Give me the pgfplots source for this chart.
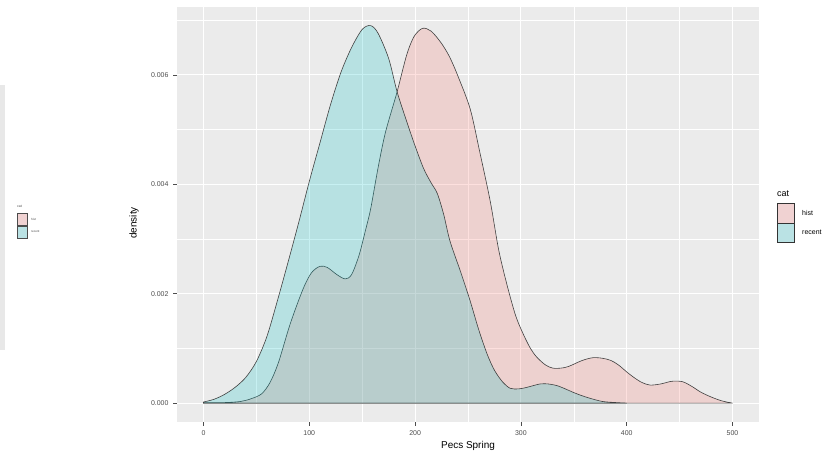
\documentclass[border=0pt]{standalone}
\usepackage{fontspec}
\setmainfont{Liberation Sans}
\usepackage{pgfplots}
\pgfplotsset{compat=1.18}
\usepackage{xcolor}
\definecolor{panelgrey}{RGB}{235,235,235}
\definecolor{ggpink}{RGB}{248,118,109}
\definecolor{ggblue}{RGB}{0,191,196}
\definecolor{grey30}{RGB}{77,77,77}
\definecolor{keypink}{RGB}{240,210,210}
\definecolor{keyblue}{RGB}{186,226,228}

\begin{document}
\begin{tikzpicture}[x=1bp,y=1bp]
\path[use as bounding box,fill=white] (0,0) rectangle (833,455);

% faint ghost panel at the left edge
\fill[black!9] (0,105) rectangle (5,370);
\node[font=\fontsize{3.5}{4}\selectfont,text=grey30,anchor=west,inner sep=0] at (17,249) {cat};
\draw[black!70,line width=0.3bp,fill=keypink] (17,230) rectangle (27,242);
\draw[black!70,line width=0.3bp,fill=keyblue] (17,217) rectangle (27,229);
\node[font=\fontsize{3}{3.5}\selectfont,text=grey30,anchor=west,inner sep=0] at (31,236) {hist};
\node[font=\fontsize{3}{3.5}\selectfont,text=grey30,anchor=west,inner sep=0] at (31,223) {recent};

\begin{axis}[
  at={(177bp,33bp)}, anchor=south west,
  scale only axis, width=582bp, height=415bp,
  xmin=-25, xmax=525, ymin=-0.000345, ymax=0.00724,
  axis background/.style={fill=panelgrey},
  axis line style={draw=none},
  xtick={0,100,200,300,400,500},
  ytick={0,0.002,0.004,0.006},
  minor xtick={-50,50,150,250,350,450},
  minor ytick={0.001,0.003,0.005,0.007},
  grid=both,
  major grid style={white,line width=1.1bp},
  minor grid style={white,line width=0.5bp},
  xtick pos=lower, ytick pos=left,
  tick align=outside,
  major tick length=4bp, minor tick length=0pt,
  tick style={grey30,line width=0.5bp},
  scaled y ticks=false,
  yticklabel style={/pgf/number format/fixed,/pgf/number format/precision=3,
    /pgf/number format/fixed zerofill},
  /pgf/number format/assume math mode=true,
  ticklabel style={font=\fontsize{7}{8}\selectfont,text=grey30},
  xticklabel style={yshift=-1bp},
  yticklabel style={xshift=-1bp},
  clip=false,
]
\addplot[smooth,tension=0.5,draw=black!75,line width=0.6bp,fill=ggpink,fill opacity=0.22]
coordinates {
(0,0.00001) (20,0.00001) (35,0.00003) (45,0.00008) (55,0.00017) (63,0.00038)
(71,0.00075) (82,0.00145) (94,0.00208) (102,0.00238) (110,0.00250) (117,0.00248)
(126,0.00235) (134,0.00227) (140,0.00235) (147,0.00270) (153,0.00315) (158,0.00355)
(165,0.00430) (172,0.00495) (183,0.00569) (192,0.00636) (199,0.00670) (207,0.00685)
(215,0.00680) (224,0.00660) (232,0.00635) (240,0.00600) (252,0.00538) (261,0.00460)
(271,0.00369) (279,0.00280) (287,0.00215) (295,0.00160) (302,0.00127) (309,0.00100)
(315,0.00084) (323,0.00070) (330,0.00064) (338,0.00064) (345,0.00067) (358,0.00078)
(368,0.00083) (377,0.00082) (385,0.00078) (392,0.00070) (400,0.00057) (406,0.00048)
(414,0.00038) (422,0.00033) (432,0.00035) (443,0.00040) (453,0.00039) (462,0.00030)
(470,0.00020) (480,0.00011) (490,0.00004) (500,0.00000)
} \closedcycle;
\addplot[smooth,tension=0.5,draw=black!75,line width=0.6bp,fill=ggblue,fill opacity=0.22]
coordinates {
(0,0.00002) (10,0.00007) (20,0.00016) (30,0.00029) (40,0.00047) (50,0.00076)
(60,0.00122) (70,0.00188) (80,0.00258) (90,0.00330) (100,0.00405) (110,0.00475)
(120,0.00545) (130,0.00605) (140,0.00650) (150,0.00683) (158,0.00690) (165,0.00676)
(175,0.00630) (183,0.00569) (192,0.00515) (200,0.00470) (208,0.00429) (215,0.00403)
(221,0.00383) (227,0.00345) (233,0.00296) (243,0.00240) (252,0.00187) (260,0.00135)
(268,0.00090) (275,0.00060) (283,0.00038) (290,0.00027) (298,0.00026) (306,0.00029)
(318,0.00035) (326,0.00035) (334,0.00032) (342,0.00026) (349,0.00020) (357,0.00014)
(365,0.00009) (377,0.00003) (390,0.00001) (400,0.00000)
} \closedcycle;
\end{axis}

% axis titles
\node[font=\fontsize{10}{12}\selectfont,inner sep=0] at (468,9) {Pecs Spring};
\node[font=\fontsize{10}{12}\selectfont,inner sep=0,rotate=90] at (134,232) {density};

% legend
\node[font=\fontsize{9}{10}\selectfont,anchor=west,inner sep=0] at (777,261) {cat};
\draw[black!80,line width=0.5bp,fill=keypink] (777,232) rectangle (794,252);
\draw[black!80,line width=0.5bp,fill=keyblue] (777,213) rectangle (794,232);
\node[font=\fontsize{7}{8}\selectfont,anchor=west,inner sep=0] at (802,242) {hist};
\node[font=\fontsize{7}{8}\selectfont,anchor=west,inner sep=0] at (802,222.5) {recent};
\end{tikzpicture}
\end{document}
